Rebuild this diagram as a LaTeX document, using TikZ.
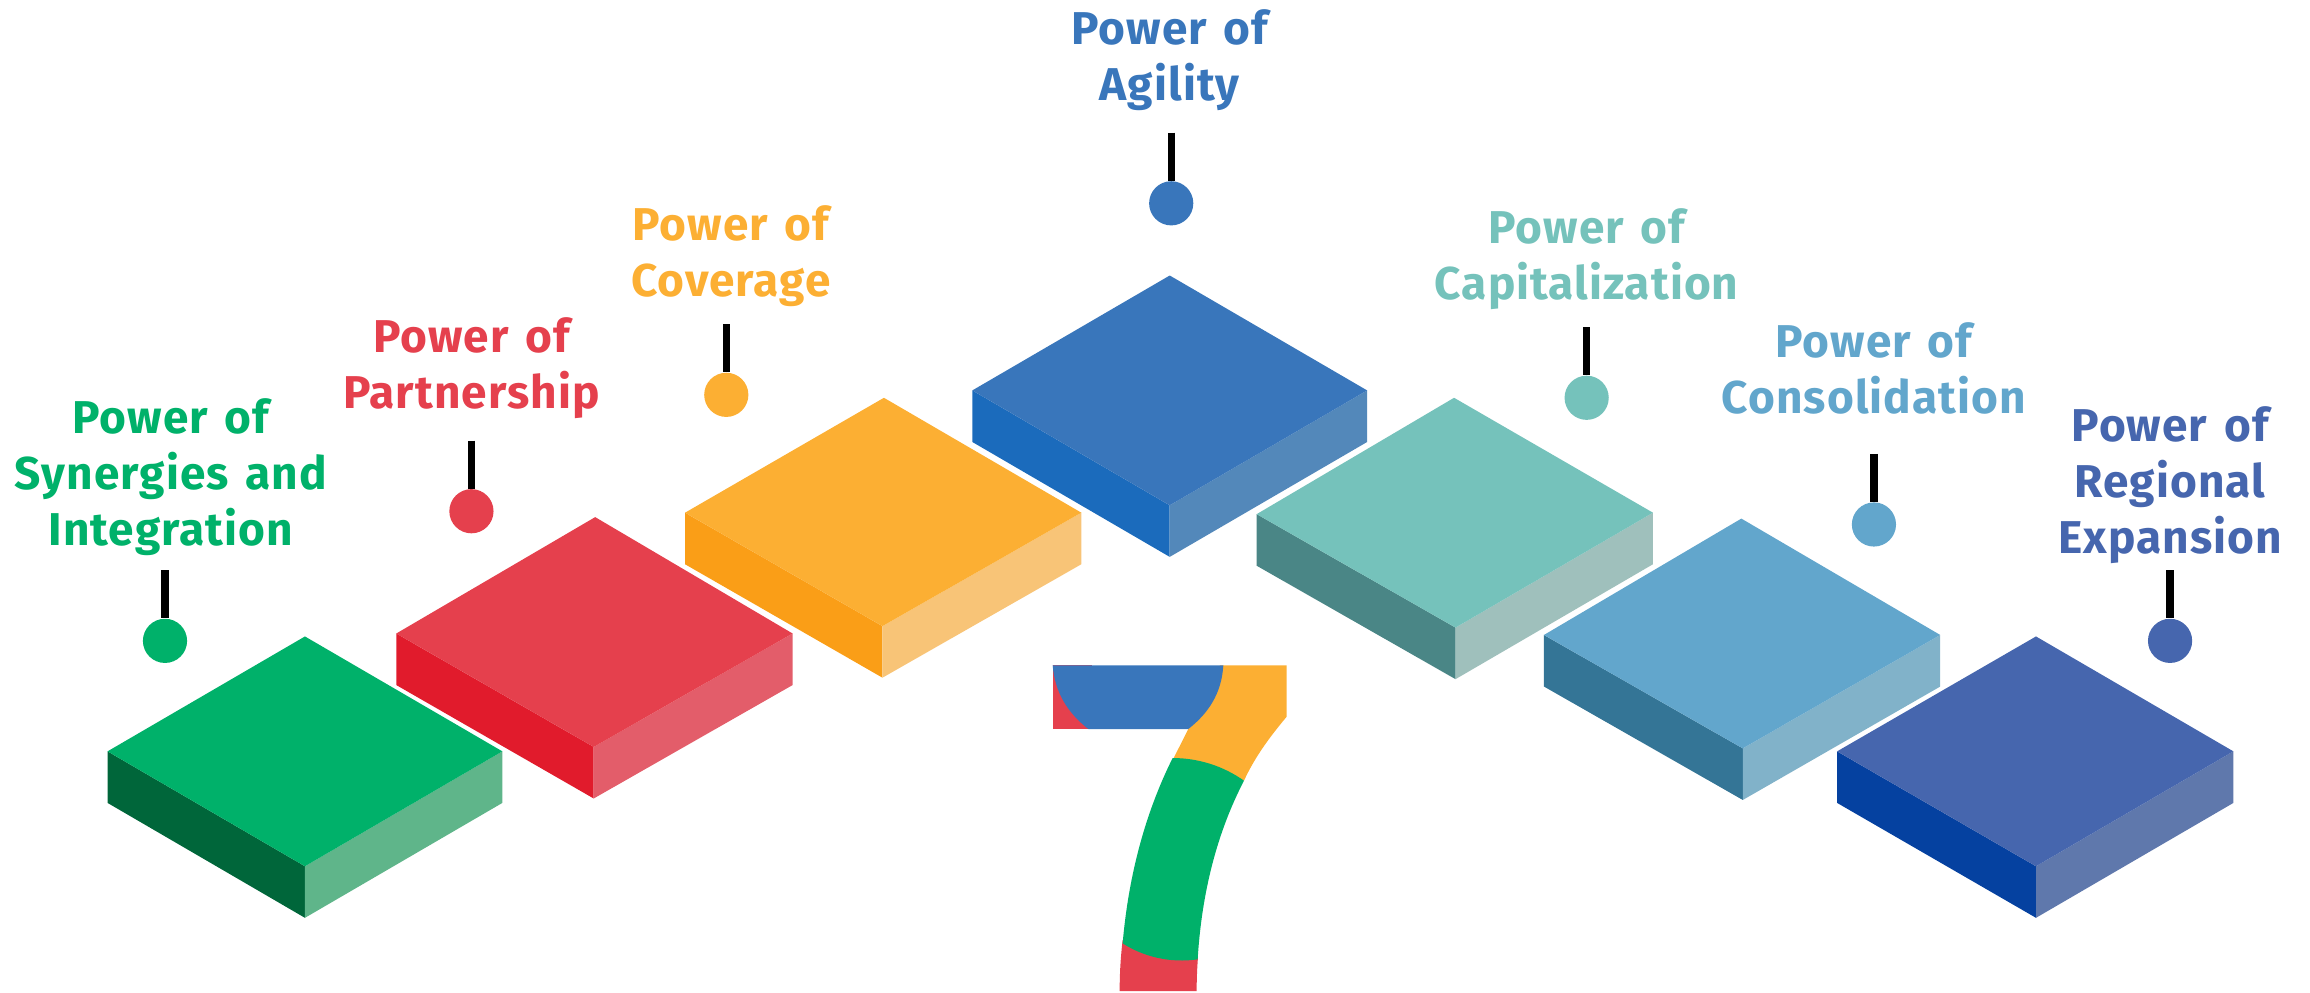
\documentclass[tikz,border=0pt]{standalone}
\usepackage{fontspec}
\setmainfont{Fira Sans}[LetterSpace=2.3,WordSpace=1.4]
\usetikzlibrary{calc,backgrounds}
\definecolor{gT}{HTML}{00B16A}\definecolor{gL}{HTML}{00663A}\definecolor{gR}{HTML}{5FB58A}
\definecolor{rT}{HTML}{E5404D}\definecolor{rL}{HTML}{E11B2C}\definecolor{rR}{HTML}{E35D6A}
\definecolor{oT}{HTML}{FCAF33}\definecolor{oL}{HTML}{FA9E17}\definecolor{oR}{HTML}{F8C477}
\definecolor{bT}{HTML}{3976BB}\definecolor{bL}{HTML}{1B6BBC}\definecolor{bR}{HTML}{5388BA}
\definecolor{tT}{HTML}{75C2BB}\definecolor{tL}{HTML}{4A8686}\definecolor{tR}{HTML}{9FC0BC}
\definecolor{lT}{HTML}{62A6CC}\definecolor{lL}{HTML}{347596}\definecolor{lR}{HTML}{81B2C9}
\definecolor{nT}{HTML}{4666AE}\definecolor{nL}{HTML}{0541A0}\definecolor{nR}{HTML}{5F78AC}
\tikzset{
  lbl/.style={anchor=north,inner sep=0pt,align=center,font=\fontsize{23}{28}\selectfont\bfseries},
  dotn/.style={circle,inner sep=0pt,minimum size=22.1pt},
  stem/.style={draw=black,line width=3.6pt},
}
% top ; left ; front ; right ; depth ; colour prefix
\newcommand{\blockshape}[6]{%
  \def\pT{#1}\def\pL{#2}\def\pF{#3}\def\pR{#4}%
  \fill[#6L] (\pL) -- (\pF) -- ++(0,#5) -- ($(\pL)+(0,#5)$) -- cycle;
  \fill[#6R] (\pR) -- (\pF) -- ++(0,#5) -- ($(\pR)+(0,#5)$) -- cycle;
  \fill[#6T] (\pT) -- (\pL) -- (\pF) -- (\pR) -- cycle;
}
% name, colour, x, stem top y, dot y
\newcommand{\marker}[5]{%
  \coordinate (#1s) at (#3,#4);
  \node[dotn,fill=#2] (#1d) at (#3,#5) {};
  \begin{scope}[on background layer]\draw[stem] (#1s) -- (#1d);\end{scope}
}
\begin{document}
\begin{tikzpicture}[x=0.7366pt,y=-0.7366pt]
\useasboundingbox (0,0) rectangle (1568,673.4);
\blockshape{207,432}{73,510}{207,588}{341,510}{35}{g}
\blockshape{404,351}{269,430}{403,507}{538,430}{35}{r}
\blockshape{600,270}{465,348}{599,425}{734,348}{35}{o}
\blockshape{794,187}{660,265}{794,343}{928,265}{35}{b}
\blockshape{987,270}{853,349}{988,426}{1122,348}{35}{t}
\blockshape{1182,352}{1048,431}{1183,508}{1317,431}{35}{l}
\blockshape{1382,432}{1247,510}{1382,588}{1516,510}{35}{n}
\marker{a}{gT}{112}{387}{435}
\marker{b}{rT}{320}{299}{347}
\marker{c}{oT}{493}{220}{268}
\marker{d}{bT}{795}{90}{138}
\marker{e}{tT}{1077}{222}{270}
\marker{f}{lT}{1272}{308}{356}
\marker{h}{nT}{1473}{387}{435}
\node[lbl,text=gT] (la) at (116,270) {Power of\\Synergies and\\Integration};
\node[lbl,text=rT] (lb) at (320,215) {Power of\\Partnership};
\node[lbl,text=oT] (lc) at (496,139) {Power of\\Coverage};
\node[lbl,text=bT] (ld) at (794,6) {Power of\\Agility};
\node[lbl,text=tT] (le) at (1077,141) {Power of\\Capitalization};
\node[lbl,text=lT] (lf) at (1272,219) {Power of\\Consolidation};
\node[lbl,text=nT] (lh) at (1473,276) {Power of\\Regional\\Expansion};
\begin{scope}[shift={(692.36,434.43)},scale=0.22626]
\fill[rT] (98,76) -- (98,267) -- (215,267) -- (215,76) -- cycle;
\fill[oT] (600,76) -- (800,76) -- (800,230) .. controls (750,290) and (705,350) .. (672,422) -- (458,360) -- (505,267) -- cycle;
\fill[bT] (98,76) -- (610,76) .. controls (605,160) and (565,220) .. (505,267) -- (205,267) .. controls (145,220) and (105,160) .. (98,76) -- cycle;
\fill[rT] (308,900) .. controls (302,950) and (299,1000) .. (299,1053) -- (530,1053) .. controls (530,1020) and (531,990) .. (534,950) -- cycle;
\fill[gT] (458,354) .. controls (535,354) and (610,378) .. (672,422) .. controls (590,580) and (545,760) .. (533,958) .. controls (450,970) and (370,950) .. (308,910) .. controls (325,710) and (375,520) .. (458,354) -- cycle;
\end{scope}
\end{tikzpicture}
\end{document}
